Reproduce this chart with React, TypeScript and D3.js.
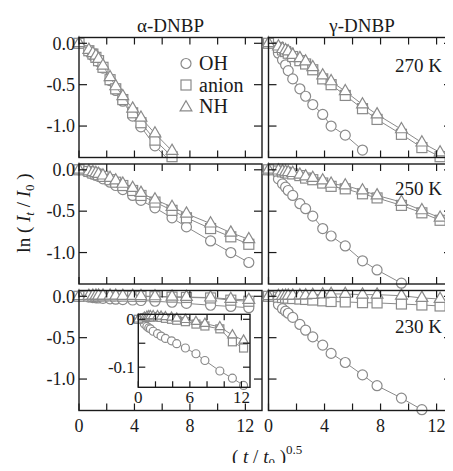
import * as d3 from "d3";

const W = 453;
const H = 471;
const FONT = "'Liberation Serif', 'Times New Roman', serif";
const GRAY = "#8a8a8a";
const INK = "#1a1a1a";

// (t/t0)^0.5 sampling
const xs = [0, 0.71, 1, 1.22, 1.41, 1.73, 2.24, 2.65, 3.16, 3.87, 4.47, 5.48, 6.71, 7.75, 9.49, 10.95, 12.25];

const seriesNames = ["OH", "anion", "NH"];
const columnTitles = ["α-DNBP", "γ-DNBP"];
const tempLabels = ["270 K", "250 K", "230 K"];

// alpha-DNBP
const a270OH = [0, -0.1, -0.15, -0.18, -0.22, -0.3, -0.45, -0.57, -0.7, -0.88, -1.01, -1.24, -1.45];
const a270Anion = [0, -0.09, -0.13, -0.17, -0.21, -0.29, -0.44, -0.55, -0.68, -0.84, -0.96, -1.17, -1.37];
const a270NH = [0, -0.08, -0.12, -0.15, -0.19, -0.27, -0.41, -0.52, -0.64, -0.79, -0.9, -1.09, -1.3];

const a250OH = [0, -0.03, -0.05, -0.065, -0.08, -0.11, -0.15, -0.19, -0.24, -0.31, -0.37, -0.46, -0.58, -0.69, -0.86, -1.0, -1.12];
const a250Anion = [0, -0.02, -0.04, -0.05, -0.06, -0.08, -0.12, -0.15, -0.19, -0.25, -0.31, -0.39, -0.49, -0.58, -0.71, -0.81, -0.9];
const a250NH = [0, -0.02, -0.03, -0.04, -0.05, -0.07, -0.1, -0.13, -0.17, -0.22, -0.28, -0.36, -0.45, -0.53, -0.65, -0.76, -0.84];

const a230OH = [0, -0.01, -0.015, -0.018, -0.02, -0.025, -0.03, -0.035, -0.04, -0.045, -0.051, -0.06, -0.072, -0.086, -0.108, -0.123, -0.138];
const a230Anion = [0, 0.003, 0.004, 0.005, 0.005, 0.005, 0.005, 0.004, 0.002, 0, -0.002, -0.005, -0.01, -0.014, -0.02, -0.047, -0.06];
const a230NH = [0, 0.004, 0.006, 0.007, 0.007, 0.007, 0.007, 0.006, 0.005, 0.004, 0.002, -0.001, -0.005, -0.009, -0.016, -0.033, -0.044];

// gamma-DNBP
const g270OH = [0, -0.12, -0.2, -0.26, -0.33, -0.43, -0.55, -0.64, -0.74, -0.86, -1.0, -1.11, -1.29];
const g270Anion = [0, -0.05, -0.08, -0.1, -0.12, -0.16, -0.21, -0.25, -0.32, -0.43, -0.5, -0.63, -0.79, -0.92, -1.1, -1.26, -1.37];
const g270NH = [0, -0.04, -0.07, -0.085, -0.1, -0.14, -0.18, -0.22, -0.29, -0.39, -0.46, -0.58, -0.74, -0.86, -1.04, -1.2, -1.32];

const g250OH = [0, -0.11, -0.17, -0.21, -0.25, -0.31, -0.41, -0.47, -0.56, -0.71, -0.8, -0.92, -1.1, -1.21, -1.37];
const g250Anion = [0, -0.015, -0.025, -0.03, -0.04, -0.05, -0.07, -0.1, -0.12, -0.16, -0.2, -0.23, -0.29, -0.34, -0.43, -0.52, -0.61];
const g250NH = [0, -0.01, -0.02, -0.025, -0.03, -0.04, -0.06, -0.08, -0.1, -0.13, -0.17, -0.19, -0.25, -0.31, -0.39, -0.49, -0.58];

const g230OH = [0, -0.1, -0.15, -0.18, -0.205, -0.255, -0.34, -0.41, -0.49, -0.59, -0.69, -0.8, -0.95, -1.08, -1.23, -1.37];
const g230Anion = [0, -0.01, -0.015, -0.02, -0.022, -0.027, -0.033, -0.038, -0.045, -0.055, -0.063, -0.068, -0.077, -0.08, -0.093, -0.105, -0.117];
const g230NH = [0, 0.003, 0.005, 0.006, 0.007, 0.008, 0.009, 0.011, 0.015, 0.022, 0.028, 0.028, 0.02, 0.02, 0.007, -0.02, -0.033];

const panels = [
  [[a270OH, a270Anion, a270NH], [g270OH, g270Anion, g270NH]],
  [[a250OH, a250Anion, a250NH], [g250OH, g250Anion, g250NH]],
  [[a230OH, a230Anion, a230NH], [g230OH, g230Anion, g230NH]],
];

const xTicks = [0, 2, 4, 6, 8, 10, 12];
const xTickLabels = [0, 4, 8, 12];
const yTicks = [0, -0.5, -1.0];
const yTickLabels = ["0.0", "-0.5", "-1.0"];
const insetXTicks = [0, 2, 4, 6, 8, 10, 12];
const insetXLabels = [0, 6, 12];
const insetYTicks = [0, -0.05, -0.1];
const insetYLabels = [
  { v: 0, t: "0" },
  { v: -0.1, t: "-0.1" },
];

// layout
const cols = [
  { x0: 79, x1: 262, max: 13.2 },
  { x0: 268.5, x1: 452, max: 13.1 },
];
const rowTops = [37.5, 164, 290.5];
const rowH = 120;
const yDomain: [number, number] = [-1.38, 0.07];
const inset = { x0: 138.3, x1: 250, y0: 314.3, y1: 387.3, xMax: 13, yDom: [-0.142, 0.0104] as [number, number] };

function Marker({ kind, x, y, s }: { kind: number; x: number; y: number; s: number }) {
  const st = { fill: "white", stroke: GRAY, strokeWidth: 1.2 };
  if (kind === 0) return <circle cx={x} cy={y} r={s} {...st} />;
  if (kind === 1) return <rect x={x - s} y={y - s} width={2 * s} height={2 * s} {...st} />;
  const tri = d3.symbol().type(d3.symbolTriangle).size(s * s * 2.4)()!;
  return <path d={tri} transform={`translate(${x},${y})`} {...st} />;
}

function Series({ data, xS, yS, clip, s }: any) {
  return (
    <g>
      {data.map((vals: number[], k: number) => {
        const pts = vals.map((v, i) => [xs[i], v] as [number, number]);
        const line = d3
          .line<[number, number]>()
          .x((d) => xS(d[0]))
          .y((d) => yS(d[1]))(pts);
        const [lo, hi] = yS.domain();
        return (
          <g key={k}>
            <path d={line!} fill="none" stroke={GRAY} strokeWidth={1} clipPath={`url(#${clip})`} />
            {pts
              .filter((p) => p[1] >= lo - 0.005 && p[1] <= hi)
              .map((p, i) => (
                <Marker key={i} kind={k} x={xS(p[0])} y={yS(p[1])} s={s} />
              ))}
          </g>
        );
      })}
    </g>
  );
}

function Frame({ x0, x1, y0, y1, xS, yS, xt, yt, tx, ty }: any) {
  return (
    <g stroke={INK} strokeWidth={1.2}>
      {xt.map((t: number) => (
        <g key={"x" + t}>
          <line x1={xS(t)} x2={xS(t)} y1={y1} y2={y1 - tx} />
          <line x1={xS(t)} x2={xS(t)} y1={y0} y2={y0 + tx} />
        </g>
      ))}
      {yt.map((t: number) => (
        <g key={"y" + t}>
          <line x1={x0} x2={x0 + ty} y1={yS(t)} y2={yS(t)} />
          <line x1={x1} x2={x1 - ty} y1={yS(t)} y2={yS(t)} />
        </g>
      ))}
      <rect x={x0} y={y0} width={x1 - x0} height={y1 - y0} fill="none" strokeWidth={1.4} />
    </g>
  );
}

export default function App() {
  const elems: any[] = [];
  rowTops.forEach((top, r) => {
    cols.forEach((c, ci) => {
      const xS = d3.scaleLinear().domain([0, c.max]).range([c.x0, c.x1]);
      const yS = d3.scaleLinear().domain(yDomain).range([top + rowH, top]);
      const id = `clip-${r}-${ci}`;
      elems.push(
        <g key={id}>
          <clipPath id={id}>
            <rect x={c.x0} y={top} width={c.x1 - c.x0} height={rowH} />
          </clipPath>
          <Series data={panels[r][ci]} xS={xS} yS={yS} clip={id} s={5} />
          <Frame x0={c.x0} x1={c.x1} y0={top} y1={top + rowH} xS={xS} yS={yS} xt={xTicks} yt={yTicks} tx={7} ty={8} />
          {ci === 0 &&
            yTicks.map((t, i) => (
              <text key={"yl" + i} x={c.x0 - 4} y={yS(t)} dy="0.35em" textAnchor="end" fontSize={18}>
                {yTickLabels[i]}
              </text>
            ))}
          {r === 2 &&
            xTickLabels.map((t) => (
              <text key={"xl" + t} x={xS(t)} y={432} textAnchor="middle" fontSize={18}>
                {t}
              </text>
            ))}
          {ci === 1 && (
            <text x={442} y={[72, 195, 333][r]} textAnchor="end" fontSize={19}>
              {tempLabels[r]}
            </text>
          )}
        </g>
      );
    });
  });

  // inset in bottom-left panel
  const ixS = d3.scaleLinear().domain([0, inset.xMax]).range([inset.x0, inset.x1]);
  const iyS = d3.scaleLinear().domain(inset.yDom).range([inset.y1, inset.y0]);

  const legendY = [63.5, 85, 106.5];

  return (
    <svg width={W} height={H} style={{ display: "block", margin: "-8px", fontFamily: FONT }} fill={INK}>
      <rect width={W} height={H} fill="white" />
      {columnTitles.map((t, i) => (
        <text key={t} x={[170.5, 362][i]} y={31.5} textAnchor="middle" fontSize={19}>
          {t}
        </text>
      ))}
      {elems}

      <g>
        <clipPath id="clip-inset">
          <rect x={inset.x0} y={inset.y0} width={inset.x1 - inset.x0} height={inset.y1 - inset.y0} />
        </clipPath>
        <rect x={inset.x0} y={inset.y0} width={inset.x1 - inset.x0} height={inset.y1 - inset.y0} fill="white" />
        <Series data={panels[2][0]} xS={ixS} yS={iyS} clip="clip-inset" s={4} />
        <Frame x0={inset.x0} x1={inset.x1} y0={inset.y0} y1={inset.y1} xS={ixS} yS={iyS} xt={insetXTicks} yt={insetYTicks} tx={6} ty={7} />
        {insetYLabels.map((d) => (
          <text key={d.t} x={inset.x0 - 3.5} y={iyS(d.v)} dy="0.35em" textAnchor="end" fontSize={17}>
            {d.t}
          </text>
        ))}
        {insetXLabels.map((t) => (
          <text key={t} x={ixS(t)} y={403} textAnchor="middle" fontSize={17}>
            {t}
          </text>
        ))}
      </g>

      {/* legend */}
      {seriesNames.map((n, k) => (
        <g key={n}>
          <Marker kind={k} x={186} y={legendY[k] + (k === 2 ? 1 : 0)} s={5} />
          <text x={199} y={legendY[k] + 6.5} fontSize={20}>
            {n}
          </text>
        </g>
      ))}

      {/* axis titles */}
      <text transform="translate(30,213) rotate(-90)" textAnchor="middle" fontSize={19}>
        ln (<tspan fontStyle="italic"> I</tspan>
        <tspan fontStyle="italic" fontSize={13} dy={4}>t</tspan>
        <tspan dy={-4}> / </tspan>
        <tspan fontStyle="italic">I</tspan>
        <tspan fontSize={13} dy={4}>0</tspan>
        <tspan dy={-4}> )</tspan>
      </text>
      <text x={232} y={463} fontSize={19}>
        ( <tspan fontStyle="italic">t</tspan> / <tspan fontStyle="italic">t</tspan>
        <tspan fontSize={13} dy={4}>0</tspan>
        <tspan dy={-4}> )</tspan>
        <tspan fontSize={13} dy={-9}>0.5</tspan>
      </text>
    </svg>
  );
}
